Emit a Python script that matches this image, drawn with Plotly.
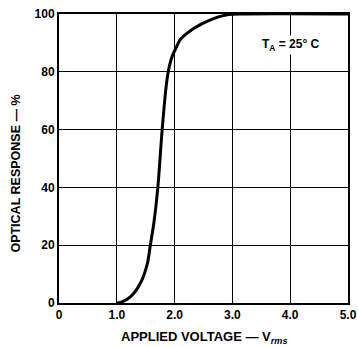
import plotly.graph_objects as go

voltage = [1.0, 1.1, 1.24, 1.41, 1.53, 1.58, 1.64, 1.71, 1.785, 1.86, 1.91, 1.96, 2.02, 2.1, 2.33, 2.62, 2.91, 3.2, 5.0]
response = [0, 0.5, 2.2, 6.9, 13.7, 20, 27.5, 40, 60, 76, 82, 85.5, 88, 91.2, 95, 98, 99.7, 100, 100]

x_ticks = [0, 1, 2, 3, 4, 5]
x_labels = ["0", "1.0", "2.0", "3.0", "4.0", "5.0"]
y_ticks = [0, 20, 40, 60, 80, 100]
y_labels = ["0", "20", "40", "60", "80", "100"]

FONT = "Liberation Sans, Arial, sans-serif"

fig = go.Figure()
fig.add_trace(go.Scatter(x=voltage, y=response, mode="lines",
                         line=dict(color="black", width=3, shape="spline", smoothing=0.8),
                         hoverinfo="skip", showlegend=False))

fig.update_layout(
    width=358, height=347,
    margin=dict(l=58.5, r=10, t=14, b=44),
    paper_bgcolor="white", plot_bgcolor="white",
    font=dict(family=FONT, color="black"),
    showlegend=False,
)
fig.update_xaxes(range=[0, 5], tickvals=x_ticks, ticktext=x_labels,
                 showgrid=True, gridcolor="black", gridwidth=1,
                 showline=True, linecolor="black", linewidth=2, mirror=True,
                 zeroline=False, ticks="", ticklen=0, automargin=False,
                 tickfont=dict(size=12, family=FONT, color="black", weight="bold"))
fig.update_yaxes(range=[0, 100], tickvals=y_ticks, ticktext=y_labels,
                 showgrid=True, gridcolor="black", gridwidth=1,
                 showline=True, linecolor="black", linewidth=2, mirror=True,
                 zeroline=False, ticks="", ticklen=0, automargin=False,
                 tickfont=dict(size=12, family=FONT, color="black", weight="bold"))

pw = 358 - 58.5 - 10
ph = 347 - 14 - 44

fig.add_annotation(x=4.02, y=89.3, xref="x", yref="y",
                   text="<b>T<sub>A</sub> = 25° C</b>", showarrow=False,
                   xanchor="center", yanchor="middle",
                   font=dict(size=12, family=FONT, color="black"),
                   bgcolor="white")
fig.add_annotation(x=(204 - 58.5) / pw, y=(303 - 337) / ph, xref="paper", yref="paper",
                   text="<b>APPLIED VOLTAGE — V<sub><i>rms</i></sub></b>", showarrow=False,
                   xanchor="center", yanchor="middle",
                   font=dict(size=13, family=FONT, color="black"))
fig.add_annotation(x=(15 - 58.5) / pw, y=(303 - 174) / ph, xref="paper", yref="paper",
                   text="<b>OPTICAL RESPONSE — %</b>", showarrow=False, textangle=-90,
                   xanchor="center", yanchor="middle",
                   font=dict(size=12.5, family=FONT, color="black"))

fig.write_html("out.html", config={"displayModeBar": False},
               post_script="document.body.style.margin='0';document.body.style.padding='0';")
